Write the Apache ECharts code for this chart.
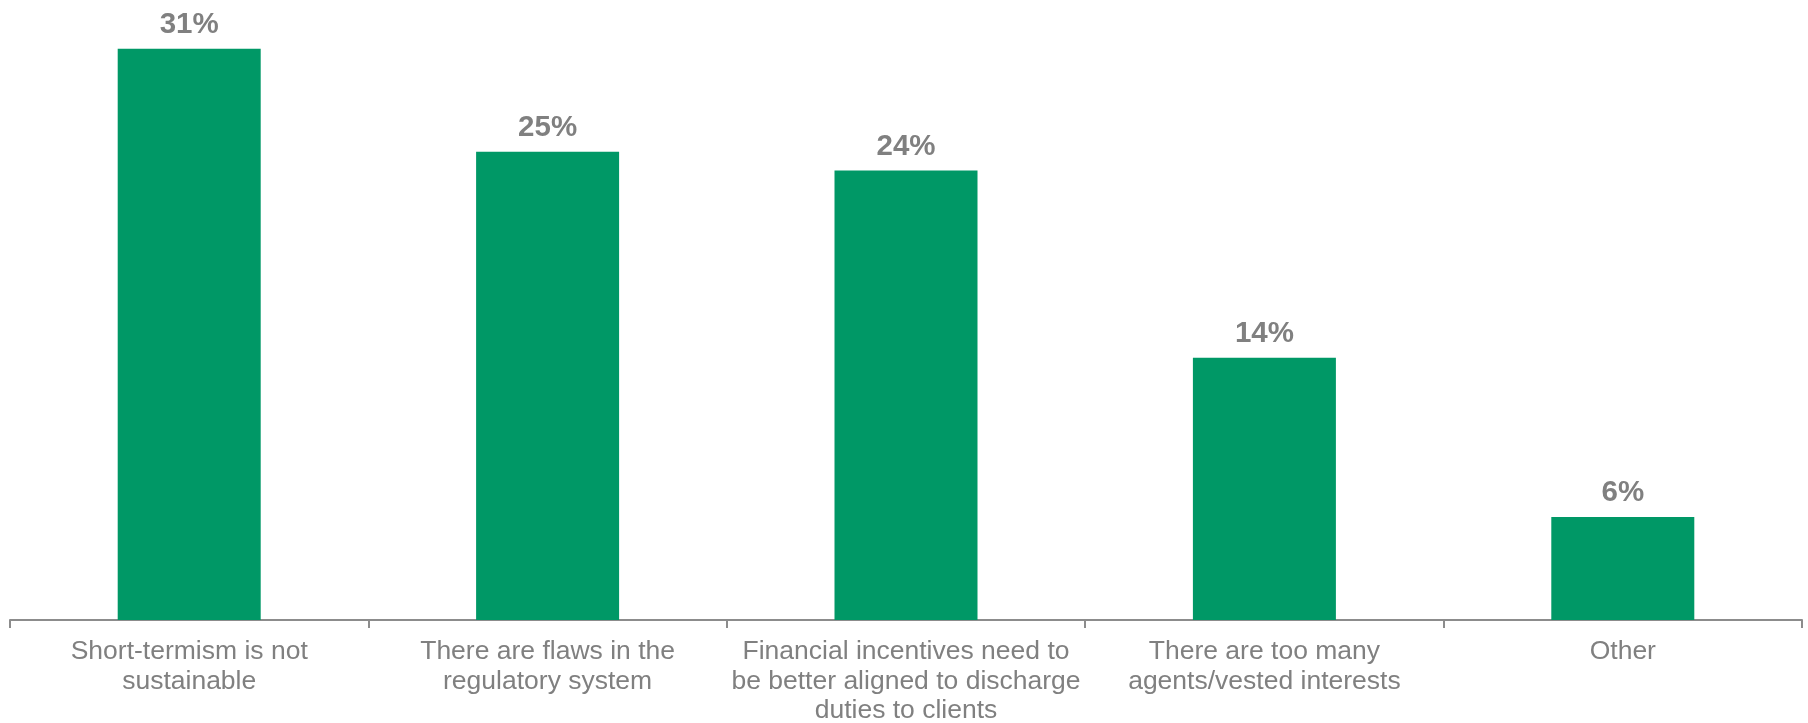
<!DOCTYPE html>
<html>
<head>
<meta charset="utf-8">
<script src="https://cdn.jsdelivr.net/npm/echarts@6/dist/echarts.min.js"></script>
<style>
html,body{margin:0;padding:0;background:#fff;}
#chart{width:1808px;height:723px;}
</style>
</head>
<body>
<div id="chart"></div>
<script>
const categories = [
  "Short-termism is not\nsustainable",
  "There are flaws in the\nregulatory system",
  "Financial incentives need to\nbe better aligned to discharge\nduties to clients",
  "There are too many\nagents/vested interests",
  "Other"
];
const values = [30.5, 25, 24, 14, 5.5];

const chart = echarts.init(document.getElementById('chart'), null, {renderer: 'canvas'});
chart.setOption({
  animation: false,
  backgroundColor: '#ffffff',
  grid: {left: 10, right: 6, top: 20.6, bottom: 103, containLabel: false, outerBoundsMode: 'none'},
  xAxis: {
    type: 'category',
    data: categories,
    boundaryGap: true,
    axisLine: {show: true, lineStyle: {color: '#8c8c8c', width: 2}},
    axisTick: {show: true, length: 8, lineStyle: {color: '#8c8c8c', width: 2}},
    axisLabel: {
      interval: 0,
      margin: 17,
      color: '#808080',
      fontFamily: 'Liberation Sans, Arial, sans-serif',
      fontSize: 26.5,
      lineHeight: 29.5
    }
  },
  yAxis: {
    type: 'value',
    min: 0,
    max: 32,
    show: false,
    splitLine: {show: false}
  },
  series: [{
    type: 'bar',
    data: values,
    barWidth: 143,
    itemStyle: {color: '#009866'},
    label: {
      show: true,
      position: 'top',
      distance: 9,
      color: '#808080',
      fontFamily: 'Liberation Sans, Arial, sans-serif',
      fontWeight: 'bold',
      fontSize: 29.5,
      formatter: p => Math.round(p.value) + '%'
    }
  }]
});
</script>
</body>
</html>
